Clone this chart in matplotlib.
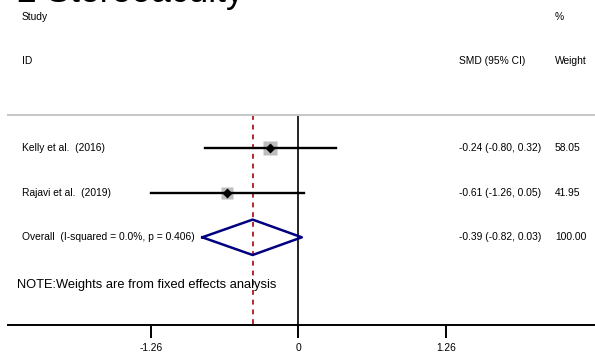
import numpy as np
import matplotlib.pyplot as plt

plt.rcParams['font.family'] = ['Liberation Sans', 'DejaVu Sans']

# data
studies = ['Kelly et al.  (2016)', 'Rajavi et al.  (2019)']
smd = [-0.24, -0.61]
ci_low = [-0.80, -1.26]
ci_high = [0.32, 0.05]
weights = [58.05, 41.95]

overall_label = 'Overall  (I-squared = 0.0%, p = 0.406)'
overall_smd = -0.39
overall_low = -0.82
overall_high = 0.03
overall_weight = 100.00

tick_values = [-1.26, 0, 1.26]
tick_labels = ['-1.26', '0', '1.26']

W, H = 595, 354
fig = plt.figure(figsize=(W / 100, H / 100), dpi=100)

# plot axes: x in SMD units, y in pixels from the top
x0_px, unit_px = 298.3, 117.1
ax = fig.add_axes([0, 0, 1, 1])
ax.set_xlim(-x0_px / unit_px, (W - x0_px) / unit_px)
ax.set_ylim(H, 0)

# text axes in pixels
tx = fig.add_axes([0, 0, 1, 1], facecolor='none')
tx.set_xlim(0, W)
tx.set_ylim(H, 0)
tx.axis('off')

row0, row_step = 148.3, 44.5
rows_y = [row0 + row_step * i for i in range(len(studies) + 1)]
top_y, axis_y = 115, 325
fs = 7.4

# header (title is cut by the top edge like in the original)
tx.text(17, 1.5, '2 Stereoacuity', fontsize=25.6, va='baseline')
tx.text(22, 17, 'Study', fontsize=fs, va='center')
tx.text(22, 61, 'ID', fontsize=fs, va='center')
tx.text(555, 17, '%', fontsize=fs, va='center')
tx.text(459, 61, 'SMD (95% CI)', fontsize=fs, va='center')
tx.text(555, 61, 'Weight', fontsize=fs, va='center')
tx.plot([8, W], [top_y, top_y], color='#c8c8c8', lw=1.5)

# lines at no effect and at the overall effect
ax.vlines(0, top_y, axis_y, color='black', lw=1.2)
ax.vlines(overall_smd, top_y, axis_y, color='#b22a2a', lw=1.4,
          linestyles=(0, (2.5, 2.5)))

# study rows
for i, name in enumerate(studies):
    y = rows_y[i]
    side = 1.32 * np.sqrt(weights[i])
    ax.plot(smd[i], y, marker='s', ms=side, color='#bdbdbd', mec='none')
    ax.plot([ci_low[i], ci_high[i]], [y, y], color='black', lw=1.7)
    ax.plot(smd[i], y, marker='D', ms=5.2, color='black', mec='none')
    tx.text(22, y, name, fontsize=fs, va='center')
    tx.text(459, y, f'{smd[i]:.2f} ({ci_low[i]:.2f}, {ci_high[i]:.2f})',
            fontsize=fs, va='center')
    tx.text(555, y, f'{weights[i]:.2f}', fontsize=fs, va='center')

# overall diamond
yo = rows_y[-1]
dh = 17.7
ax.plot([overall_low, overall_smd, overall_high, overall_smd, overall_low],
        [yo, yo - dh, yo, yo + dh, yo], color='#000080', lw=1.8)
tx.text(22, yo, overall_label, fontsize=fs, va='center')
tx.text(459, yo, f'{overall_smd:.2f} ({overall_low:.2f}, {overall_high:.2f})',
        fontsize=fs, va='center')
tx.text(555, yo, f'{overall_weight:.2f}', fontsize=fs, va='center')

tx.text(17, 285, 'NOTE:Weights are from fixed effects analysis',
        fontsize=9.3, va='center')

# x axis
for s in ['top', 'right', 'left']:
    ax.spines[s].set_visible(False)
ax.spines['bottom'].set_position(('data', axis_y))
ax.spines['bottom'].set_bounds((8 - x0_px) / unit_px, (W - x0_px) / unit_px)
ax.spines['bottom'].set_linewidth(1.4)
ax.set_yticks([])
ax.set_xticks(tick_values)
ax.set_xticklabels(tick_labels, fontsize=fs)
ax.tick_params(axis='x', direction='out', length=9.4, width=1.4, pad=3.5)
ax.set_facecolor('white')

fig.savefig('out.png', dpi=100)
